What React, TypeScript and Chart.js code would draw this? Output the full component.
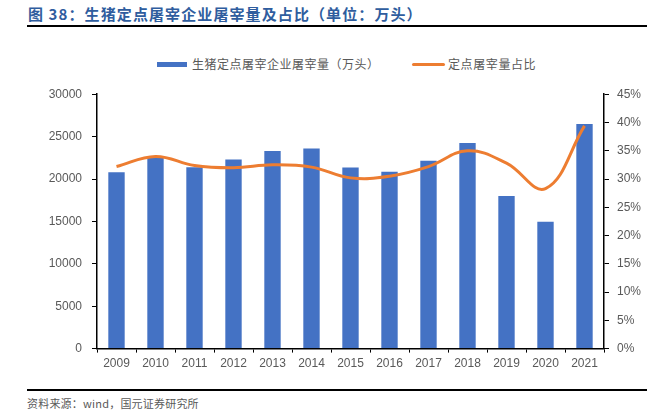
import React, { useEffect, useRef } from "react";
import { Chart, registerables } from "chart.js";

Chart.register(...registerables);

const years = ["2009", "2010", "2011", "2012", "2013", "2014", "2015", "2016", "2017", "2018", "2019", "2020", "2021"];
const slaughterVolume = [20800, 22600, 21400, 22300, 23300, 23600, 21350, 20850, 22150, 24250, 18000, 14950, 26500];
const slaughterShare = [32.2, 34.0, 32.4, 32.0, 32.5, 32.1, 30.2, 30.5, 32.2, 35.0, 32.8, 28.3, 39.4];

const barLabel = "生猪定点屠宰企业屠宰量（万头）";
const lineLabel = "定点屠宰量占比";
const titleText = "图 38：生猪定点屠宰企业屠宰量及占比（单位：万头）";
const sourceText = "资料来源：wind，国元证券研究所";

const BLUE = "#4472C4";
const ORANGE = "#ED7D31";
const GRAY = "#595959";
const CJK = '"Noto Sans CJK SC", "Liberation Sans", sans-serif';
const LATIN = '"Liberation Sans", Arial, sans-serif';

export default function App() {
  const canvasRef = useRef<HTMLCanvasElement | null>(null);

  useEffect(() => {
    const canvas = canvasRef.current;
    if (!canvas) return;
    const chart = new Chart(canvas, {
      type: "bar",
      data: {
        labels: years,
        datasets: [
          {
            type: "line",
            label: lineLabel,
            data: slaughterShare,
            borderColor: ORANGE,
            backgroundColor: ORANGE,
            borderWidth: 3,
            pointRadius: 0,
            tension: 0.4,
            yAxisID: "y1",
            order: 0,
          },
          {
            type: "bar",
            label: barLabel,
            data: slaughterVolume,
            backgroundColor: BLUE,
            borderWidth: 0,
            categoryPercentage: 1,
            barPercentage: 0.42,
            yAxisID: "y",
            order: 1,
          },
        ],
      },
      options: {
        animation: false,
        responsive: false,
        maintainAspectRatio: false,
        layout: { padding: { top: 8, left: 0, right: 0, bottom: 0 } },
        plugins: {
          legend: { display: false },
          tooltip: { enabled: false },
        },
        scales: {
          x: {
            offset: true,
            grid: {
              offset: true,
              drawOnChartArea: false,
              drawTicks: true,
              tickLength: 4,
              color: "#000",
              lineWidth: 1,
            },
            border: { color: "#000", width: 1.5 },
            ticks: {
              color: GRAY,
              font: { family: LATIN, size: 12 },
              padding: 4,
              maxRotation: 0,
            },
          },
          y: {
            position: "left",
            min: 0,
            max: 30000,
            afterFit: (s: any) => {
              s.width = 97;
            },
            ticks: {
              stepSize: 5000,
              color: GRAY,
              font: { family: LATIN, size: 12 },
              padding: 10,
              callback: (v: any) => String(v),
            },
            grid: {
              drawOnChartArea: false,
              drawTicks: true,
              tickLength: 5,
              color: "#000",
            },
            border: { color: "#000", width: 1.5 },
          },
          y1: {
            position: "right",
            min: 0,
            max: 45,
            afterFit: (s: any) => {
              s.width = 65;
            },
            ticks: {
              stepSize: 5,
              color: GRAY,
              font: { family: LATIN, size: 12 },
              padding: 8,
              callback: (v: any) => `${v}%`,
            },
            grid: {
              drawOnChartArea: false,
              drawTicks: true,
              tickLength: 5,
              color: "#000",
            },
            border: { color: "#000", width: 1.5 },
          },
        },
      },
    });
    return () => chart.destroy();
  }, []);

  return (
    <div
      style={{
        position: "absolute",
        left: 0,
        top: 0,
        width: 669,
        height: 411,
        background: "#fff",
        overflow: "hidden",
      }}
    >
      <div
        style={{
          position: "absolute",
          left: 28,
          top: 4,
          fontFamily: CJK,
          fontWeight: 700,
          fontSize: 15,
          letterSpacing: 1.1,
          color: "#2F5D9E",
          whiteSpace: "nowrap",
          lineHeight: "20px",
        }}
      >
        {titleText}
      </div>
      <div style={{ position: "absolute", left: 27, top: 25, width: 620, height: 2, background: "#000" }} />

      <div style={{ position: "absolute", left: 157, top: 62, width: 30, height: 5, background: BLUE }} />
      <div
        style={{
          position: "absolute",
          left: 192,
          top: 55,
          fontFamily: CJK,
          fontSize: 12,
          letterSpacing: 0.5,
          color: GRAY,
          whiteSpace: "nowrap",
          lineHeight: "18px",
        }}
      >
        {barLabel}
      </div>
      <div style={{ position: "absolute", left: 412, top: 63, width: 33, height: 3, background: ORANGE, borderRadius: 1.5 }} />
      <div
        style={{
          position: "absolute",
          left: 448,
          top: 55,
          fontFamily: CJK,
          fontSize: 12,
          letterSpacing: 0.6,
          color: GRAY,
          whiteSpace: "nowrap",
          lineHeight: "18px",
        }}
      >
        {lineLabel}
      </div>

      <canvas
        ref={canvasRef}
        width={669}
        height={298}
        style={{ position: "absolute", left: 0, top: 77, width: 669, height: 298 }}
      />

      <div style={{ position: "absolute", left: 27, top: 389, width: 620, height: 2, background: "#000" }} />
      <div
        style={{
          position: "absolute",
          left: 27,
          top: 395,
          fontFamily: CJK,
          fontSize: 11,
          letterSpacing: 0.2,
          color: GRAY,
          whiteSpace: "nowrap",
          lineHeight: "16px",
        }}
      >
        {sourceText}
      </div>
    </div>
  );
}
